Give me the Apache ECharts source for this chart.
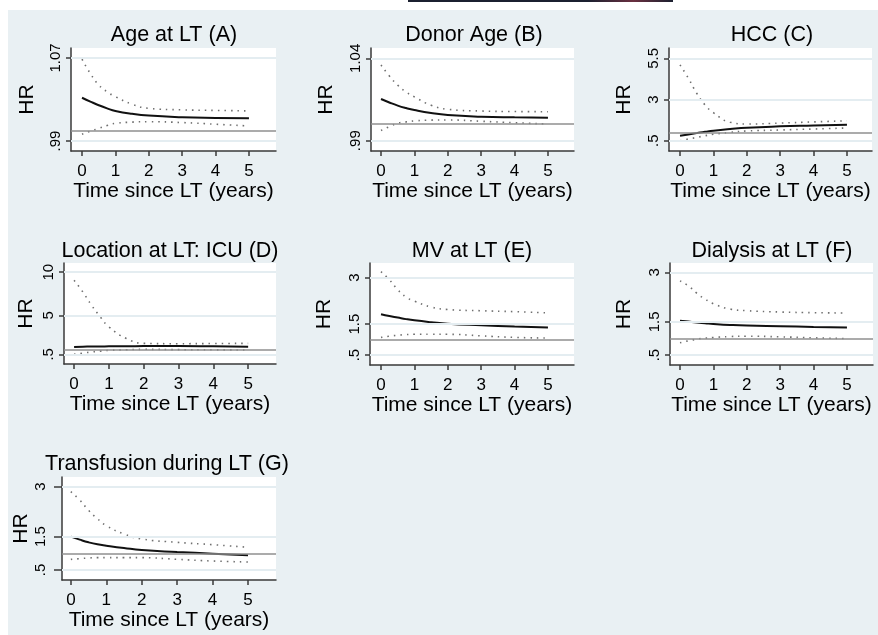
<!DOCTYPE html>
<html><head><meta charset="utf-8">
<script src="https://cdn.jsdelivr.net/npm/echarts@6/dist/echarts.min.js"></script>
<style>
html,body{margin:0;padding:0;background:#fff;}
#bg{position:absolute;left:8px;top:10px;width:870px;height:625px;background:#e9f0f3;}
#topbar{position:absolute;left:408px;top:0;width:265px;height:2px;background:linear-gradient(to right,#1b2030 0%,#1b2030 68%,#6a3040 85%,#1b2030 100%);}
#chart{position:absolute;left:0;top:0;width:878px;height:635px;}
</style></head><body>
<div id="bg"></div><div id="topbar"></div><div id="chart"></div>
<script>
// ---- data ----
const time = [0, 0.25, 0.5, 0.75, 1, 1.5, 2, 3, 4, 5];
const xTicks = [0, 1, 2, 3, 4, 5];
const titles = ['Age at LT (A)', 'Donor Age (B)', 'HCC (C)', 'Location at LT: ICU (D)', 'MV at LT (E)', 'Dialysis at LT (F)', 'Transfusion during LT (G)'];
const xName = 'Time since LT (years)';
const yName = 'HR';

const hrA    = [1.0317, 1.0280, 1.0245, 1.0215, 1.0190, 1.0162, 1.0145, 1.0130, 1.0123, 1.0119];
const upperA = [1.0688, 1.0550, 1.0440, 1.0375, 1.0327, 1.0255, 1.0215, 1.0200, 1.0195, 1.0190];
const lowerA = [0.9965, 0.9995, 1.0022, 1.0050, 1.0070, 1.0082, 1.0086, 1.0078, 1.0062, 1.0045];

const hrB    = [1.0153, 1.0132, 1.0113, 1.0098, 1.0086, 1.0068, 1.0056, 1.0046, 1.0042, 1.0040];
const upperB = [1.0359, 1.0293, 1.0237, 1.0196, 1.0166, 1.0115, 1.0091, 1.0080, 1.0077, 1.0076];
const lowerB = [0.9962, 0.9985, 1.0006, 1.0014, 1.0020, 1.0025, 1.0026, 1.0018, 1.0009, 1.0001];

const hrC    = [0.80, 0.88, 0.96, 1.04, 1.11, 1.21, 1.29, 1.37, 1.42, 1.47];
const upperC = [5.10, 4.29, 3.38, 2.67, 2.20, 1.62, 1.51, 1.57, 1.64, 1.71];
const lowerC = [0.50, 0.60, 0.70, 0.80, 0.89, 1.00, 1.09, 1.15, 1.21, 1.27];

const hrD    = [1.35, 1.38, 1.40, 1.41, 1.42, 1.44, 1.45, 1.45, 1.42, 1.38];
const upperD = [9.07, 7.72, 6.19, 4.84, 3.68, 2.34, 1.77, 1.73, 1.75, 1.77];
const lowerD = [0.50, 0.64, 0.77, 0.87, 0.96, 1.03, 1.08, 1.04, 1.02, 1.00];

const hrE    = [1.82, 1.76, 1.71, 1.66, 1.62, 1.56, 1.51, 1.46, 1.42, 1.39];
const upperE = [3.19, 2.93, 2.61, 2.37, 2.24, 2.05, 1.97, 1.93, 1.90, 1.86];
const lowerE = [1.07, 1.11, 1.14, 1.16, 1.17, 1.17, 1.17, 1.12, 1.07, 1.05];

const hrF    = [1.54, 1.51, 1.48, 1.46, 1.44, 1.41, 1.39, 1.37, 1.35, 1.33];
const upperF = [2.74, 2.59, 2.37, 2.19, 2.05, 1.89, 1.84, 1.80, 1.78, 1.77];
const lowerF = [0.87, 0.93, 0.98, 1.01, 1.03, 1.06, 1.07, 1.05, 1.02, 1.00];

const hrG    = [1.50, 1.41, 1.33, 1.27, 1.23, 1.16, 1.10, 1.04, 0.99, 0.94];
const upperG = [2.85, 2.60, 2.29, 2.04, 1.83, 1.58, 1.43, 1.33, 1.26, 1.18];
const lowerG = [0.82, 0.84, 0.86, 0.87, 0.87, 0.87, 0.87, 0.82, 0.77, 0.74];

const yTicksA = [0.99, 1.07];  const yLabelsA = ['.99', '1.07'];
const yTicksB = [0.99, 1.04];  const yLabelsB = ['.99', '1.04'];
const yTicksC = [0.5, 3, 5.5]; const yLabelsC = ['.5', '3', '5.5'];
const yTicksD = [0.5, 5, 10];  const yLabelsD = ['.5', '5', '10'];
const yTicksE = [0.5, 1.5, 3]; const yLabelsE = ['.5', '1.5', '3'];
const yTicksF = [0.5, 1.5, 3]; const yLabelsF = ['.5', '1.5', '3'];
const yTicksG = [0.5, 1.5, 3]; const yLabelsG = ['.5', '1.5', '3'];
const refHR = 1;

const panels = [
  {hr: hrA, up: upperA, lo: lowerA, yt: yTicksA, yl: yLabelsA},
  {hr: hrB, up: upperB, lo: lowerB, yt: yTicksB, yl: yLabelsB},
  {hr: hrC, up: upperC, lo: lowerC, yt: yTicksC, yl: yLabelsC},
  {hr: hrD, up: upperD, lo: lowerD, yt: yTicksD, yl: yLabelsD},
  {hr: hrE, up: upperE, lo: lowerE, yt: yTicksE, yl: yLabelsE},
  {hr: hrF, up: upperF, lo: lowerF, yt: yTicksF, yl: yLabelsF},
  {hr: hrG, up: upperG, lo: lowerG, yt: yTicksG, yl: yLabelsG}
];

// ---- layout (positions / axis extents) ----
const layout = [
  {left: 71,  top: 48,  width: 205, height: 103, xmin: -0.33, xmax: 5.81, ymin: 0.9804, ymax: 1.0796, tx: 174, ty: 24, ng: 33, lm: 8,  tl: 5},
  {left: 371, top: 48,  width: 203, height: 103, xmin: -0.30, xmax: 5.78, ymin: 0.98375, ymax: 1.04625, tx: 474, ty: 24, ng: 34, lm: 8, tl: 5},
  {left: 669, top: 48,  width: 203, height: 103, xmin: -0.33, xmax: 5.75, ymin: -0.125, ymax: 6.125, tx: 772, ty: 24, ng: 34, lm: 8, tl: 5},
  {left: 64,  top: 263, width: 212, height: 101, xmin: -0.29, xmax: 5.80, ymin: -0.62, ymax: 11.07, tx: 170, ty: 240, ng: 27, lm: 8, tl: 5},
  {left: 370, top: 263, width: 204, height: 102, xmin: -0.33, xmax: 5.78, ymin: 0.18, ymax: 3.47, tx: 472, ty: 240, ng: 35, lm: 8, tl: 5},
  {left: 670, top: 263, width: 203, height: 102, xmin: -0.30, xmax: 5.78, ymin: 0.20, ymax: 3.28, tx: 772, ty: 240, ng: 35, lm: 8, tl: 5},
  {left: 62,  top: 477, width: 214, height: 103, xmin: -0.25, xmax: 5.79, ymin: 0.20, ymax: 3.29, tx: 167, ty: 453, ng: 25, lm: 14, tl: 8}
];

const FONT = 'Liberation Sans, Arial, sans-serif';
const axisColor = '#3a3a3a';

const option = {
  animation: false,
  title: [], grid: [], xAxis: [], yAxis: [], series: []
};

panels.forEach((p, i) => {
  const L = layout[i];
  option.title.push({
    text: titles[i], left: L.tx, top: L.ty, textAlign: 'center', padding: 0,
    textStyle: {fontFamily: FONT, fontSize: 21.5, fontWeight: 'normal', color: '#000'}
  });
  option.grid.push({
    left: L.left, top: L.top, width: L.width, height: L.height,
    show: true, backgroundColor: '#ffffff', borderWidth: 0
  });
  option.xAxis.push({
    type: 'value', gridIndex: i, min: L.xmin, max: L.xmax,
    name: xName, nameLocation: 'middle', nameGap: 27,
    nameTextStyle: {fontFamily: FONT, fontSize: 21, color: '#000'},
    axisLine: {show: true, onZero: false, lineStyle: {color: axisColor, width: 1.5}},
    axisTick: {show: true, length: 5, customValues: xTicks, lineStyle: {color: axisColor, width: 1.5}},
    axisLabel: {customValues: xTicks, margin: 12, fontFamily: FONT, fontSize: 17, color: '#000', formatter: v => String(v)},
    splitLine: {show: false}
  });
  option.yAxis.push({
    type: 'value', gridIndex: i, min: L.ymin, max: L.ymax,
    name: yName, nameLocation: 'middle', nameGap: L.ng,
    nameTextStyle: {fontFamily: FONT, fontSize: 21, color: '#000'},
    axisLine: {show: true, onZero: false, lineStyle: {color: axisColor, width: 1.5}},
    axisTick: {show: true, length: L.tl, customValues: p.yt, lineStyle: {color: axisColor, width: 1.5}},
    axisLabel: {
      customValues: p.yt, rotate: 90, margin: L.lm, fontFamily: FONT, fontSize: 15, color: '#000',
      formatter: v => {
        let best = 0;
        p.yt.forEach((t, k) => { if (Math.abs(t - v) < Math.abs(p.yt[best] - v)) best = k; });
        return p.yl[best];
      }
    },
    splitLine: {show: false}
  });
  const gridLines = p.yt.map(v => ({yAxis: v, lineStyle: {color: '#e4edf1', width: 2, type: 'solid'}}));
  gridLines.push({yAxis: refHR, lineStyle: {color: '#8f8f8f', width: 1.5, type: 'solid'}});
  const dotted = {color: '#6f6f6f', width: 1.6, type: [1.5, 5]};
  option.series.push({
    type: 'line', xAxisIndex: i, yAxisIndex: i, showSymbol: false, smooth: true, silent: true, z: 1,
    data: time.map((t, k) => [t, p.lo[k]]), lineStyle: dotted,
    markLine: {silent: true, symbol: 'none', label: {show: false}, data: gridLines, animation: false}
  });
  option.series.push({
    type: 'line', xAxisIndex: i, yAxisIndex: i, showSymbol: false, smooth: true, silent: true, z: 2,
    data: time.map((t, k) => [t, p.up[k]]), lineStyle: dotted
  });
  option.series.push({
    type: 'line', xAxisIndex: i, yAxisIndex: i, showSymbol: false, smooth: true, silent: true, z: 3,
    data: time.map((t, k) => [t, p.hr[k]]), lineStyle: {color: '#111', width: 2}
  });
});

const chart = echarts.init(document.getElementById('chart'), null, {renderer: 'canvas'});
chart.setOption(option);
</script>
</body></html>
